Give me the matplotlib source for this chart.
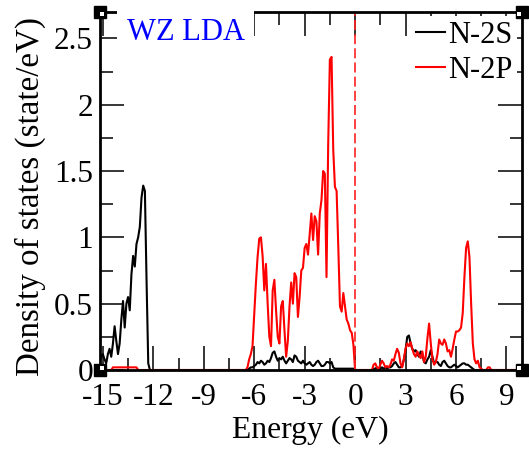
"""Partial DOS of N in wurtzite (LDA), drawn in the xmgrace style."""

import numpy as np
import matplotlib

matplotlib.use("Agg")
from matplotlib import pyplot as plt
from matplotlib import transforms
from matplotlib.ticker import FormatStrFormatter, MultipleLocator

plt.rcParams["font.family"] = ["Liberation Serif", "DejaVu Serif"]
plt.rcParams["axes.unicode_minus"] = False

STEP = 0.1  # energy grid spacing (eV)

# N-2S, semicore band
s_core_start = -15.2
s_core = [0.05, 0.10, 0.12, 0.08, 0.05, 0.12, 0.16, 0.10, 0.20, 0.33,
          0.22, 0.12, 0.20, 0.38, 0.52, 0.32, 0.50, 0.55, 0.45, 0.72,
          0.86, 0.78, 0.95, 1.00, 1.08, 1.30, 1.39, 1.35, 0.67, 0.05, 0.0]
# N-2S, valence band
s_val_start = -6.5
s_val = [0.0, 0.0, 0.01, 0.02, 0.02, 0.03, 0.04, 0.06, 0.05, 0.07,
         0.06, 0.04, 0.05, 0.07, 0.06, 0.09, 0.13, 0.14, 0.10, 0.07,
         0.09, 0.08, 0.10, 0.07, 0.05, 0.07, 0.09, 0.08, 0.06, 0.11,
         0.10, 0.07, 0.06, 0.05, 0.07, 0.05, 0.04, 0.05, 0.06, 0.04,
         0.03, 0.04, 0.06, 0.07, 0.05, 0.03, 0.03, 0.04, 0.06, 0.06,
         0.05, 0.06, 0.02, 0.01, 0.01, 0.01, 0.01, 0.01, 0.01, 0.01,
         0.01, 0.01, 0.01, 0.01, 0.01, 0.0]
# N-2S, conduction band
s_cond_start = 1.0
s_cond = [0.0, 0.01, 0.01, 0.02, 0.01, 0.01, 0.02, 0.01, 0.02, 0.01,
          0.02, 0.02, 0.03, 0.05, 0.06, 0.04, 0.02, 0.02, 0.03, 0.08,
          0.15, 0.25, 0.26, 0.20, 0.16, 0.14, 0.15, 0.12, 0.10, 0.14,
          0.12, 0.06, 0.05, 0.08, 0.10, 0.15, 0.10, 0.05, 0.06, 0.06,
          0.04, 0.03, 0.06, 0.07, 0.05, 0.03, 0.02, 0.02, 0.03, 0.04,
          0.03, 0.02, 0.03, 0.04, 0.05, 0.05, 0.04, 0.04, 0.03, 0.02,
          0.01, 0.0]

# N-2P, semicore tail
p_core_start = -14.5
p_core = [0.0, 0.02, 0.02, 0.02, 0.02, 0.02, 0.02, 0.02, 0.02, 0.02,
          0.02, 0.02, 0.02, 0.02, 0.02, 0.02, 0.0]
# N-2P, valence band
p_val_start = -6.5
p_val = [0.0, 0.02, 0.08, 0.12, 0.18, 0.42, 0.65, 0.85, 0.99, 1.00,
         0.86, 0.60, 0.80, 0.50, 0.25, 0.18, 0.60, 0.68, 0.45, 0.25,
         0.20, 0.48, 0.52, 0.30, 0.10, 0.22, 0.48, 0.66, 0.50, 0.73,
         0.70, 0.40, 0.55, 0.75, 0.77, 0.92, 0.95, 0.87, 1.03, 1.18,
         0.98, 1.16, 1.12, 0.87, 1.18, 1.28, 1.50, 1.48, 0.70, 1.70,
         2.34, 2.36, 1.66, 1.38, 1.35, 0.93, 0.48, 0.44, 0.58, 0.48,
         0.38, 0.35, 0.30, 0.28, 0.19, 0.0]
# N-2P, conduction band
p_cond_start = 1.0
p_cond = [0.0, 0.04, 0.05, 0.02, 0.01, 0.04, 0.07, 0.05, 0.02, 0.03,
          0.02, 0.04, 0.08, 0.07, 0.12, 0.16, 0.13, 0.05, 0.02, 0.08,
          0.16, 0.20, 0.18, 0.21, 0.16, 0.12, 0.10, 0.14, 0.11, 0.09,
          0.14, 0.06, 0.10, 0.24, 0.35, 0.20, 0.08, 0.04, 0.06, 0.12,
          0.23, 0.20, 0.19, 0.23, 0.20, 0.14, 0.15, 0.10, 0.16, 0.23,
          0.29, 0.29, 0.30, 0.32, 0.43, 0.70, 0.92, 0.97, 0.85, 0.50,
          0.20, 0.08, 0.05, 0.07, 0.02, 0.01, 0.0, 0.0, 0.0, 0.02,
          0.02, 0.0]

x_ticks = [-15, -12, -9, -6, -3, 0, 3, 6, 9]
y_ticks = [0, 0.5, 1, 1.5, 2, 2.5]
x_limits = (-15.17, 9.9)
y_limits = (0, 2.7)


def _series(segments, x_end):
    energy, dos = [], []
    for start, values in segments:
        energy.extend(start + STEP * np.arange(len(values)))
        dos.extend(values)
    energy.append(x_end)
    dos.append(0.0)
    return np.array(energy), np.array(dos)


s_energy, s_dos = _series(
    [(s_core_start, s_core), (s_val_start, s_val), (s_cond_start, s_cond)], x_limits[1])
p_energy, p_dos = _series(
    [(x_limits[0], [0.0]), (p_core_start, p_core), (p_val_start, p_val),
     (p_cond_start, p_cond)], x_limits[1])

fig = plt.figure(figsize=(5.29, 4.54), dpi=100)
ax = fig.add_axes([0.189, 0.185, 0.797, 0.789])

ax.plot(s_energy, s_dos, color="black", linewidth=1.5, label="N-2S")
ax.plot(p_energy, p_dos, color="#ff0000", linewidth=1.5, label="N-2P")
ax.axvline(0, color="#ff2020", linewidth=1.2, dashes=(6, 2.5))

ax.set_xlim(*x_limits)
ax.set_ylim(*y_limits)
ax.set_xticks(x_ticks)
ax.set_yticks(y_ticks)
ax.xaxis.set_minor_locator(MultipleLocator(1.5))
ax.yaxis.set_minor_locator(MultipleLocator(0.25))
ax.yaxis.set_major_formatter(FormatStrFormatter("%g"))
ax.tick_params(which="both", direction="in", top=True, right=True,
               width=1.1, labelsize=22.5)
ax.tick_params(which="major", length=17)
ax.tick_params(which="minor", length=9)
ax.tick_params(axis="x", pad=9)
ax.tick_params(axis="y", pad=5)
for spine in ax.spines.values():
    spine.set_linewidth(2.0)

ax.set_xlabel("Energy (eV)", fontsize=22.8, labelpad=3)
ax.set_ylabel("Density of states (state/eV)", fontsize=23.8, labelpad=6)
ax.yaxis.label.set_y(0.483)

ax.text(0.063, 0.941, "WZ LDA", transform=ax.transAxes, color="#0000ff",
        fontsize=22, ha="left", va="center", zorder=6,
        bbox=dict(boxstyle="square,pad=0.3", facecolor="white", edgecolor="none"))

legend = ax.legend(loc="upper right", bbox_to_anchor=(1.0, 1.0), fontsize=22,
                   frameon=True, fancybox=False, framealpha=1.0,
                   edgecolor="none", facecolor="white", handlelength=0.95,
                   handletextpad=0.1, labelspacing=0.2, borderpad=0.15,
                   borderaxespad=0.15)

# the odd little corner blocks that xmgrace leaves on the frame
for cx, cy in [(0, 0), (0, 1), (1, 0), (1, 1)]:
    ax.plot(cx, cy, marker="s", markersize=8.5, color="black",
            transform=ax.transAxes, clip_on=False, zorder=10)
    shift = transforms.offset_copy(ax.transAxes, fig=fig,
                                   x=2.5 if cx == 0 else -2.5,
                                   y=2.5 if cy == 0 else -2.5, units="dots")
    ax.plot(cx, cy, marker="s", markersize=3.2, color="white",
            markeredgewidth=0, transform=shift, clip_on=False, zorder=11)

fig.savefig("out.png", dpi=100)
